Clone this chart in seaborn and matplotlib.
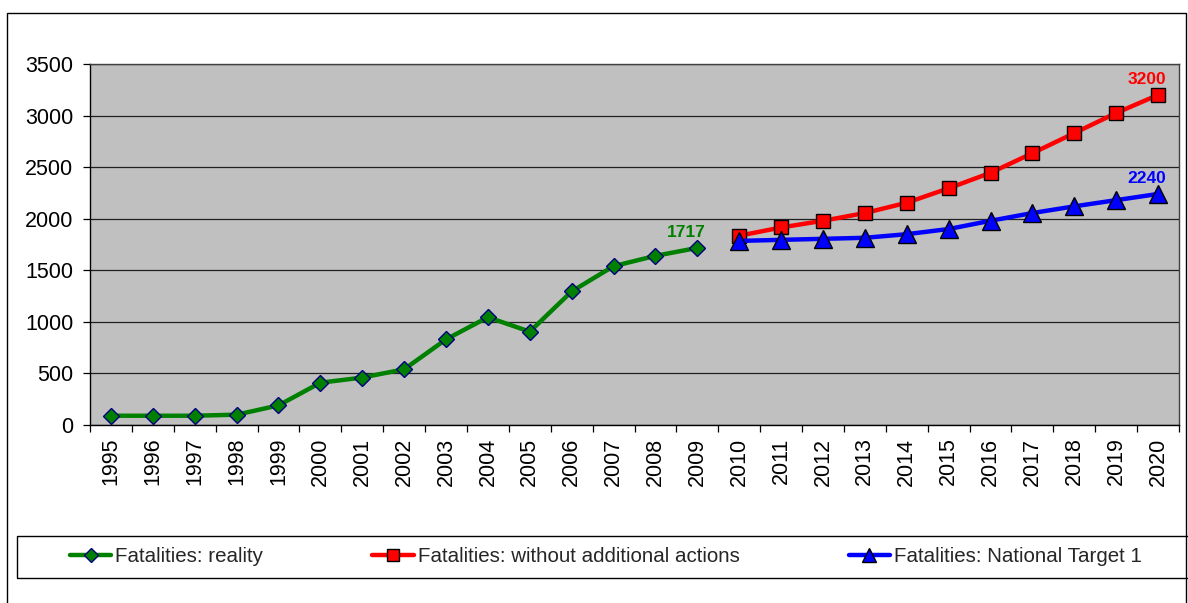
import matplotlib
matplotlib.use("Agg")
import matplotlib.pyplot as plt
from matplotlib.patches import Rectangle
from matplotlib.ticker import FixedLocator
import seaborn as sns
import pandas as pd

years_reality = [1995, 1996, 1997, 1998, 1999, 2000, 2001, 2002, 2003, 2004,
                 2005, 2006, 2007, 2008, 2009]
fatalities_reality = [90, 90, 90, 100, 190, 410, 460, 540, 830, 1045,
                      905, 1295, 1540, 1640, 1717]

years_forecast = [2010, 2011, 2012, 2013, 2014, 2015, 2016, 2017, 2018, 2019, 2020]
fatalities_no_action = [1835, 1915, 1980, 2055, 2155, 2295, 2445, 2635, 2830, 3025, 3200]
fatalities_target = [1785, 1795, 1805, 1815, 1850, 1900, 1980, 2055, 2120, 2180, 2240]

label_reality = "Fatalities: reality"
label_no_action = "Fatalities: without additional actions"
label_target = "Fatalities: National Target 1"

all_years = list(range(1995, 2021))
y_ticks = [0, 500, 1000, 1500, 2000, 2500, 3000, 3500]

sns.set_theme(style="white")
plt.rcParams['font.family'] = ['Liberation Sans', 'DejaVu Sans']

W, H = 1188, 603
fig = plt.figure(figsize=(W / 100, H / 100), dpi=100)
fig.patch.set_facecolor("white")

ax = fig.add_axes([90 / W, 1 - 425 / H, (1179 - 90) / W, (425 - 64) / H])
ax.set_facecolor("#C0C0C0")

df_r = pd.DataFrame({"year": years_reality, "value": fatalities_reality})
df_n = pd.DataFrame({"year": years_forecast, "value": fatalities_no_action})
df_t = pd.DataFrame({"year": years_forecast, "value": fatalities_target})

sns.lineplot(data=df_r, x="year", y="value", ax=ax, color="#008000", lw=3.2,
             marker="D", markersize=8.5, markerfacecolor="#008000",
             markeredgecolor="#000080", markeredgewidth=1.0, label=label_reality, zorder=5)
sns.lineplot(data=df_n, x="year", y="value", ax=ax, color="#FF0000", lw=3.2,
             marker="s", markersize=10, markerfacecolor="#FF0000",
             markeredgecolor="#000000", markeredgewidth=1.0, label=label_no_action, zorder=5)
sns.lineplot(data=df_t, x="year", y="value", ax=ax, color="#0000FF", lw=3.2,
             marker="^", markersize=12.5, markerfacecolor="#0000FF",
             markeredgecolor="#000000", markeredgewidth=1.0, label=label_target, zorder=6)

ax.set_xlim(all_years[0] - 0.5, all_years[-1] + 0.5)
ax.set_ylim(y_ticks[0], y_ticks[-1])
ax.set_xlabel("")
ax.set_ylabel("")

ax.set_yticks(y_ticks)
ax.set_yticklabels([str(v) for v in y_ticks])
ax.yaxis.grid(True, color="#202020", lw=0.9)
ax.xaxis.grid(False)
ax.set_axisbelow(True)

ax.set_xticks(all_years)
ax.set_xticklabels([str(y) for y in all_years], rotation=90)
ax.xaxis.set_minor_locator(FixedLocator([y - 0.5 for y in all_years] + [all_years[-1] + 0.5]))
ax.tick_params(axis="x", which="major", length=0, pad=9, labelsize=15.5, colors="black")
ax.tick_params(axis="x", which="minor", length=5, width=0.9, direction="out", color="black", bottom=True)
ax.tick_params(axis="y", which="major", length=5, width=0.9, direction="out", pad=7,
               labelsize=15.5, colors="black", left=True)

for s in ["left", "bottom"]:
    ax.spines[s].set_color("black")
    ax.spines[s].set_linewidth(1.0)
for s in ["top", "right"]:
    ax.spines[s].set_color("#404040")
    ax.spines[s].set_linewidth(1.0)

# data labels
ax.annotate(str(fatalities_reality[-1]), (years_reality[-1], fatalities_reality[-1]),
            xytext=(-8, 11), textcoords="offset points", ha="center", va="center",
            color="#008000", fontsize=12.5, fontweight="bold", zorder=10)
ax.annotate(str(fatalities_no_action[-1]), (years_forecast[-1], fatalities_no_action[-1]),
            xytext=(-8, 11), textcoords="offset points", ha="center", va="center",
            color="#FF0000", fontsize=12.5, fontweight="bold", zorder=10)
ax.annotate(str(fatalities_target[-1]), (years_forecast[-1], fatalities_target[-1]),
            xytext=(-8, 11), textcoords="offset points", ha="center", va="center",
            color="#0000FF", fontsize=12.5, fontweight="bold", zorder=10)

handles, labels = ax.get_legend_handles_labels()
ax.get_legend().remove()

# outer frame
fig.patches.append(Rectangle((7 / W, -0.1), (1186 - 7) / W, 1 - 13 / H + 0.1,
                             transform=fig.transFigure, fill=False,
                             edgecolor="black", lw=1.0))
# legend box
fig.patches.append(Rectangle((17 / W, 1 - 578 / H), (1200 - 17) / W, (578 - 536) / H,
                             transform=fig.transFigure, fill=False,
                             edgecolor="black", lw=1.0))

leg = fig.legend(handles, labels, ncol=3, mode="expand", loc="center",
                 bbox_to_anchor=(70 / W, 1 - 578 / H, (1142 - 70) / W, (578 - 536) / H),
                 frameon=False, borderpad=0, borderaxespad=0, markerscale=0.8,
                 handlelength=2.0, handletextpad=0.2, fontsize=14.8, numpoints=1)

fig.savefig("out.png", dpi=100, facecolor="white")
